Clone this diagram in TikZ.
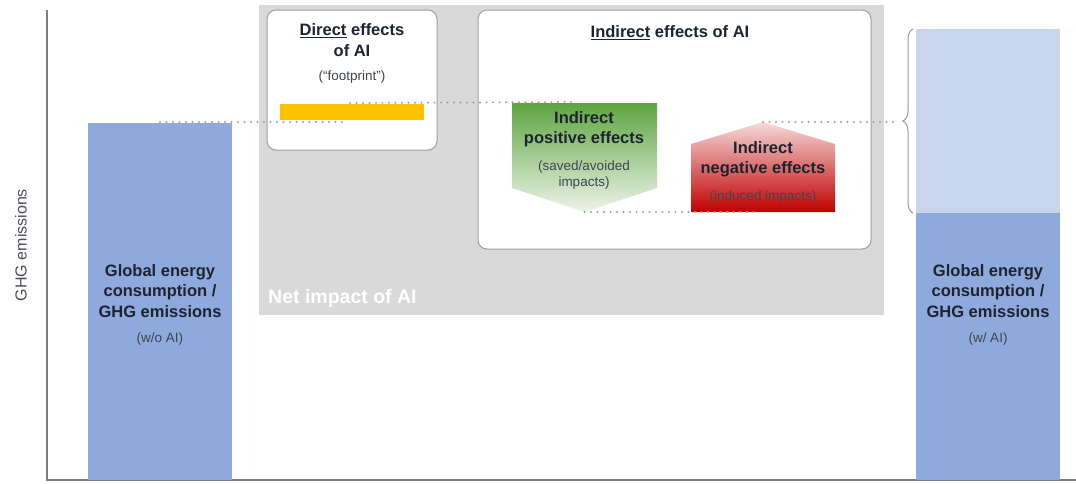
\documentclass[tikz,border=0pt]{standalone}
\usepackage{fontspec}
\setmainfont{Liberation Sans}
\usetikzlibrary{decorations.pathreplacing}
\definecolor{barblue}{HTML}{8EA9DB}
\definecolor{barlight}{HTML}{C8D5EC}
\definecolor{panelgrey}{HTML}{D9D9D9}
\definecolor{axisgrey}{HTML}{7F7F7F}
\definecolor{gold}{HTML}{FFC000}
\definecolor{txt}{HTML}{1E2330}
\definecolor{greentop}{HTML}{5DA540}
\definecolor{greenbot}{HTML}{EEF4EA}
\definecolor{redtop}{HTML}{F6DADA}
\definecolor{redbot}{HTML}{C00000}
\definecolor{dotgrey}{HTML}{A0A0A0}
\tikzset{
  bigtxt/.style={font=\bfseries\fontsize{16.5}{20.5}\selectfont, text=txt, align=center, inner sep=0pt},
  smalltxt/.style={font=\fontsize{13.5}{16.5}\selectfont, text=txt!85, align=center, inner sep=0pt},
  whitebox/.style={draw=gray!75, fill=white, line width=1pt, rounded corners=9pt},
  dotline/.style={dotgrey, line width=2.2pt, line cap=round, dash pattern=on 0pt off 6.5pt},
  axisline/.style={axisgrey, line width=1.2pt}
}
\begin{document}
\begin{tikzpicture}[x=1pt,y=-1pt]
\useasboundingbox (0,0) rectangle (1076,483);
\fill[white] (0,0) rectangle (1076,483);

% grey panel
\fill[panelgrey] (259,5) rectangle (884,315);
\node[anchor=west, font=\bfseries\fontsize{19.5}{22}\selectfont, text=white, inner sep=0pt] (net) at (268,298) {Net impact of AI};

% axes
\coordinate (otop) at (47,10);
\coordinate (orig) at (47,480);
\coordinate (xend) at (1076,480);
\draw[axisline] (otop) -- (orig) -- (xend);
\node[rotate=90, font=\fontsize{16}{18}\selectfont, text=txt!80, inner sep=0pt] (ylab) at (21,245) {GHG emissions};

% left bar
\fill[barblue] (88,123) rectangle (232,480);
\node[bigtxt] (lbar) at (160,291) {Global energy\\consumption /\\GHG emissions};
\node[smalltxt] (lsub) at (160,339) {(w/o AI)};

% right bar
\fill[barlight] (916,29) rectangle (1060,213);
\fill[barblue] (916,213) rectangle (1060,480);
\node[bigtxt] (rbar) at (988,291) {Global energy\\consumption /\\GHG emissions};
\node[smalltxt] (rsub) at (988,339) {(w/ AI)};

% direct box
\draw[whitebox] (267,10) rectangle (437,150);
\node[bigtxt] (dtitle) at (352,40) {\underline{Direct} effects\\of AI};
\node[smalltxt] (dsub) at (352,77) {(``footprint'')};
\fill[gold] (280,104) rectangle (424,120);
\coordinate (goldtop) at (350,103);

% indirect box
\draw[whitebox] (478,10) rectangle (871,249);
\node[bigtxt] (ititle) at (670,33) {\underline{Indirect} effects of AI};

% green pentagon
\shade[top color=greentop, bottom color=greenbot] (512,103) -- (657,103) -- (657,188) -- (584.5,212) -- (512,188) -- cycle;
\node[bigtxt] (pos) at (584,129) {Indirect\\positive effects};
\node[smalltxt] (possub) at (584,175) {(saved/avoided\\impacts)};
\coordinate (gtopl) at (577,102);
\coordinate (gtip) at (584.5,212);

% red pentagon
\shade[top color=redtop, bottom color=redbot] (691,144) -- (763,122) -- (835,144) -- (835,212) -- (691,212) -- cycle;
\node[bigtxt] (neg) at (763,159.5) {Indirect\\negative effects};
\node[smalltxt] (negsub) at (763,197) {(induced impacts)};
\coordinate (rbase) at (760,212);
\coordinate (rpeak) at (763,122);

% dotted guide lines
\coordinate (lbtop) at (160,122);
\coordinate (lbend) at (347,122);
\coordinate (bracetip) at (895,122);
\draw[dotline] (lbtop) -- (lbend);
\draw[dotline] (goldtop) -- (gtopl);
\draw[dotline] (gtip) -- (rbase);
\draw[dotline] (rpeak) -- (bracetip);

% brace
\coordinate (bbot) at (913,213);
\coordinate (btop) at (913,29);
\draw[gray!80, line width=1pt, decorate, decoration={brace, amplitude=10pt}] (bbot) -- (btop);
\end{tikzpicture}
\end{document}
